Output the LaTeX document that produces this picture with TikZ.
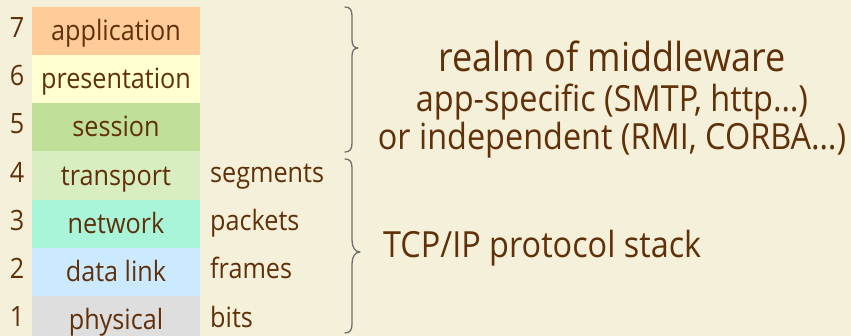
\documentclass[tikz,border=0pt]{standalone}
\usepackage{fontspec}
\setmainfont[FakeStretch=0.9]{Open Sans}
\definecolor{bg}{HTML}{F5F0DA}
\definecolor{ink}{HTML}{603008}
\definecolor{bracegray}{HTML}{6E6E6E}
\definecolor{cApp}{HTML}{FFCC99}
\definecolor{cPres}{HTML}{FFFFD2}
\definecolor{cSess}{HTML}{C0E09A}
\definecolor{cTrans}{HTML}{D8EDC0}
\definecolor{cNet}{HTML}{A8F5DA}
\definecolor{cLink}{HTML}{CCEAFF}
\definecolor{cPhys}{HTML}{DEDEDE}
\begin{document}
\begin{tikzpicture}[x=1pt,y=-1pt,
  layer/.style={rectangle, minimum width=168pt, minimum height=48.4pt,
    inner sep=0pt, outer sep=0pt, text=ink,
    font=\fontsize{28}{30}\selectfont, text height=24pt, text depth=5pt},
  num/.style={anchor=base, inner sep=0pt, text=ink, font=\fontsize{28}{30}\selectfont},
  unit/.style={anchor=base west, inner sep=0pt, text=ink, font=\fontsize{28}{30}\selectfont},
  bigtext/.style={inner sep=0pt, text=ink, font=\fontsize{40}{44}\selectfont},
  midtext/.style={inner sep=0pt, text=ink, font=\fontsize{36}{40}\selectfont},
  brace/.style={draw=bracegray, line width=1.3pt, line cap=round, line join=round}]

\useasboundingbox (0,0) rectangle (851,336);
\clip (0,0) rectangle (851,336);
\fill[bg] (0,0) rectangle (851,336);

% the seven OSI layers
\node[layer, fill=cApp]   (app)   at (116,31.1)  {application};
\node[layer, fill=cPres]  (pres)  at (116,79.3)  {presentation};
\node[layer, fill=cSess]  (sess)  at (116,127.5) {session};
\node[layer, fill=cTrans] (trans) at (116,175.7) {transport};
\node[layer, fill=cNet]   (net)   at (116,223.9) {network};
\node[layer, fill=cLink]  (link)  at (116,272.1) {data link};
\node[layer, fill=cPhys]  (phys)  at (116,320.3) {physical};

% layer numbers
\node[num] (n7) at (17,37.6)  {7};
\node[num] (n6) at (17,85.8)  {6};
\node[num] (n5) at (17,134.0) {5};
\node[num] (n4) at (17,182.2) {4};
\node[num] (n3) at (17,230.4) {3};
\node[num] (n2) at (17,278.6) {2};
\node[num] (n1) at (17,326.8) {1};

% data units
\node[unit] (useg)  at (210,182.2) {segments};
\node[unit] (upkt)  at (210,230.4) {packets};
\node[unit] (ufrm)  at (210,278.6) {frames};
\node[unit] (ubits) at (210,327.5) {bits};

% upper brace (layers 5-7)
\coordinate (b1top) at (345,7);
\coordinate (b1tip) at (358,48);
\coordinate (b1bot) at (345,152);
\draw[brace] (b1top) .. controls (350,7) and (352,10) .. (352,16)
  -- (352,40) .. controls (352,45) and (354,48) .. (b1tip)
  .. controls (354,48) and (352,51) .. (352,56)
  -- (352,143) .. controls (352,149) and (350,152) .. (b1bot);

% lower brace (layers 1-4)
\coordinate (b2top) at (345,159);
\coordinate (b2tip) at (360,252);
\coordinate (b2bot) at (345,333);
\draw[brace] (b2top) .. controls (350,159) and (352,162) .. (352,168)
  -- (352,240) .. controls (352,247) and (355,252) .. (b2tip)
  .. controls (355,252) and (352,257) .. (352,264)
  -- (352,324) .. controls (352,330) and (350,333) .. (b2bot);

% descriptions
\node[bigtext, anchor=base] (realm) at (612,72) {realm of middleware};
\node[midtext, anchor=base] (appspec) at (612,112) {app-specific (SMTP, http…)};
\node[midtext, anchor=base] (indep) at (612,150) {or independent (RMI, CORBA…)};
\node[midtext, anchor=base west] (tcpip) at (383,258) {TCP/IP protocol stack};
\end{tikzpicture}
\end{document}
